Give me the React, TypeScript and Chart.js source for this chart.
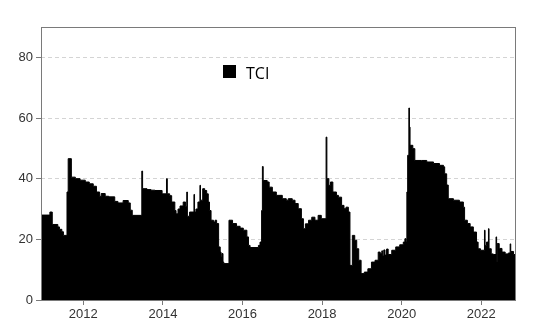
import React, { useEffect, useRef } from "react";
import { Chart, registerables } from "chart.js";

Chart.register(...registerables);

const seriesLabel = "TCI";

const dates: number[] = [
  2010.937, 2011.16, 2011.22, 2011.36, 2011.40, 2011.46, 2011.50, 2011.59, 2011.62, 2011.70,
  2011.80, 2011.92, 2012.05, 2012.15, 2012.25, 2012.33, 2012.41, 2012.45, 2012.55, 2012.64,
  2012.79, 2012.87, 2013.00, 2013.13, 2013.18, 2013.23, 2013.47, 2013.49, 2013.60, 2013.70,
  2013.80, 2013.98, 2014.09, 2014.11, 2014.17, 2014.22, 2014.30, 2014.33, 2014.38, 2014.43,
  2014.51, 2014.57, 2014.60, 2014.615, 2014.67, 2014.78, 2014.795, 2014.83, 2014.88, 2014.93,
  2014.945, 2015.00, 2015.05, 2015.10, 2015.14, 2015.17, 2015.21, 2015.27, 2015.31, 2015.35,
  2015.40, 2015.44, 2015.46, 2015.48, 2015.51, 2015.53, 2015.66, 2015.75, 2015.85, 2015.94,
  2016.02, 2016.11, 2016.15, 2016.19, 2016.40, 2016.44, 2016.48, 2016.50, 2016.52, 2016.62,
  2016.67, 2016.75, 2016.85, 2017.00, 2017.10, 2017.15, 2017.25, 2017.32, 2017.40, 2017.48,
  2017.53, 2017.58, 2017.66, 2017.74, 2017.82, 2017.90, 2017.98, 2018.10, 2018.12, 2018.17,
  2018.21, 2018.27, 2018.36, 2018.41, 2018.49, 2018.55, 2018.60, 2018.66, 2018.70, 2018.76,
  2018.82, 2018.87, 2018.92, 2018.98, 2019.06, 2019.15, 2019.24, 2019.33, 2019.41, 2019.46,
  2019.50, 2019.52, 2019.55, 2019.58, 2019.62, 2019.66, 2019.75, 2019.85, 2019.95, 2020.04,
  2020.08, 2020.11, 2020.13, 2020.15, 2020.18, 2020.195, 2020.21, 2020.28, 2020.33, 2020.50,
  2020.63, 2020.80, 2020.95, 2021.05, 2021.08, 2021.13, 2021.17, 2021.30, 2021.45, 2021.55,
  2021.58, 2021.65, 2021.72, 2021.80, 2021.88, 2021.92, 2021.98, 2022.08, 2022.095, 2022.13,
  2022.18, 2022.195, 2022.25, 2022.30, 2022.37, 2022.385, 2022.40, 2022.45, 2022.52, 2022.60,
  2022.68, 2022.725, 2022.74, 2022.81, 2022.85, 2022.872,
];

const tciValues: number[] = [
  28, 29, 24.9, 24.1, 23.3, 22.5, 21.3, 35.6, 46.6, 40.5,
  40, 39.5, 38.9, 38.3, 37.5, 35.6, 34.2, 35.1, 34.2, 34,
  32.5, 32, 32.8, 32, 29.6, 27.9, 42.5, 36.7, 36.4, 36.2,
  36.1, 35, 40, 35, 34.4, 32.3, 29.5, 28.4, 30, 31,
  32.3, 30.8, 35.6, 27.6, 29, 34.8, 29, 30, 32.3, 37.8,
  32.9, 36.7, 36.1, 35, 32.3, 29.5, 26.3, 25.7, 26.3, 25.2,
  17.5, 15.8, 14.2, 15.3, 12.5, 12.0, 26.3, 25.2, 24.3, 23.7,
  23, 20.8, 18, 17.3, 18, 19.1, 29.5, 44, 39.4, 38.9,
  37.2, 35.6, 34.5, 33.4, 32.9, 33.4, 32.9, 31.8, 30.1, 26.8,
  23.5, 25.1, 26.3, 27.3, 26.3, 27.9, 26.8, 53.7, 40, 37.8,
  38.9, 35.6, 34.5, 33.9, 31.2, 30.1, 30.6, 29, 11.4, 21.3,
  19.7, 16.9, 13.1, 8.7, 9.2, 10.3, 12.5, 13.1, 15.8, 15.3,
  16.2, 14.5, 16.5, 14.8, 16.8, 15, 16.4, 17.5, 18.2, 19.1,
  20.2, 19.1, 35.6, 47.7, 63.3, 57, 51, 49.9, 46, 46,
  45.5, 45, 44.4, 43.9, 41.6, 37.9, 33.4, 32.9, 32.3, 30.6,
  26.3, 25.2, 24.1, 22.4, 19.1, 16.9, 16.4, 23, 18, 19.1,
  23.5, 16.9, 15.2, 15, 20.8, 12.5, 18.6, 17, 15.8, 15.2,
  15.5, 18.5, 16, 15, 13, 13,
];

const xTicks: number[] = [2012, 2014, 2016, 2018, 2020, 2022];
const yTicks: number[] = [0, 20, 40, 60, 80];

const framePlugin = {
  id: "frameAndLegend",
  afterDatasetsDraw(chart: any) {
    const { ctx, chartArea } = chart;
    ctx.save();
    ctx.strokeStyle = "#7a7a7a";
    ctx.lineWidth = 1;
    ctx.strokeRect(
      Math.round(chartArea.left) + 0.5,
      Math.round(chartArea.top) + 0.5,
      Math.round(chartArea.right - chartArea.left) - 1,
      Math.round(chartArea.bottom - chartArea.top)
    );
    // legend
    ctx.fillStyle = "#000";
    ctx.fillRect(223, 65, 13, 13);
    ctx.font = '16px "Open Sans"';
    ctx.textBaseline = "alphabetic";
    ctx.textAlign = "left";
    ctx.fillText(chart.data.datasets[0].label, 246, 78.5);
    ctx.restore();
  },
};

export default function App() {
  const ref = useRef<HTMLCanvasElement | null>(null);
  useEffect(() => {
    document.body.style.margin = "0";
    const canvas = ref.current!;
    const chart = new Chart(canvas, {
      type: "line",
      data: {
        datasets: [
          {
            label: seriesLabel,
            data: dates.map((d, i) => ({ x: d, y: tciValues[i] })),
            stepped: true,
            fill: "origin",
            backgroundColor: "#000",
            borderColor: "#000",
            borderWidth: 1,
            pointRadius: 0,
            tension: 0,
          },
        ],
      },
      options: {
        responsive: false,
        animation: false,
        layout: { padding: { top: 27, right: 20, left: 0, bottom: 0 } },
        plugins: { legend: { display: false }, tooltip: { enabled: false } },
        scales: {
          x: {
            type: "linear",
            min: 2010.937,
            max: 2022.872,
            afterBuildTicks: (s: any) => {
              s.ticks = xTicks.map((v) => ({ value: v }));
            },
            afterFit: (s: any) => {
              s.height = 34;
            },
            grid: {
              drawOnChartArea: false,
              drawTicks: true,
              tickLength: 5,
              tickColor: "#7a7a7a",
            },
            border: { display: false },
            ticks: {
              color: "#333",
              font: { family: '"Liberation Sans", Arial, sans-serif', size: 13 },
              padding: 2,
              maxRotation: 0,
              autoSkip: false,
              callback: (v: any) => String(v),
            },
          },
          y: {
            type: "linear",
            min: 0,
            max: 90,
            afterBuildTicks: (s: any) => {
              s.ticks = yTicks.map((v) => ({ value: v }));
            },
            afterFit: (s: any) => {
              s.width = 41;
            },
            grid: {
              color: (c: any) => (c.tick && c.tick.value === 0 ? "rgba(0,0,0,0)" : "#d4d4d4"),
              drawTicks: true,
              tickLength: 5,
              tickColor: "#7a7a7a",
            },
            border: { display: false, dash: [4, 3] },
            ticks: {
              color: "#333",
              font: { family: '"Liberation Sans", Arial, sans-serif', size: 13 },
              padding: 3,
              autoSkip: false,
              callback: (v: any) => String(v),
            },
          },
        },
      },
      plugins: [framePlugin],
    });
    return () => chart.destroy();
  }, []);
  return (
    <div style={{ position: "absolute", left: 0, top: 0, width: 536, height: 334 }}>
      <canvas ref={ref} width={536} height={334} style={{ width: 536, height: 334 }} />
    </div>
  );
}
